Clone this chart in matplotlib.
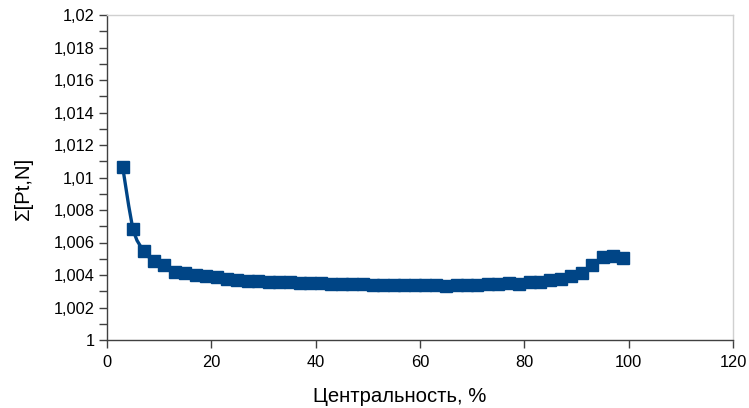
import numpy as np
import matplotlib.pyplot as plt
from matplotlib.path import Path
from matplotlib.patches import PathPatch
from matplotlib.ticker import MultipleLocator, FuncFormatter

# Центральность (%) и значения Σ[Pt,N]
centrality = [3, 5, 7, 9, 11, 13, 15, 17, 19, 21, 23, 25, 27, 29, 31, 33, 35, 37, 39, 41,
              43, 45, 47, 49, 51, 53, 55, 57, 59, 61, 63, 65, 67, 69, 71, 73, 75, 77, 79, 81,
              83, 85, 87, 89, 91, 93, 95, 97, 99]
sigma = [1.01065, 1.00685, 1.0055, 1.00485, 1.0046, 1.0042, 1.0041, 1.0040, 1.00395, 1.00385,
         1.00375, 1.0037, 1.00365, 1.00365, 1.0036, 1.0036, 1.00355, 1.0035, 1.0035, 1.0035,
         1.00345, 1.00345, 1.00345, 1.00345, 1.0034, 1.0034, 1.0034, 1.0034, 1.0034, 1.0034,
         1.0034, 1.00335, 1.0034, 1.0034, 1.0034, 1.00345, 1.00345, 1.0035, 1.00345, 1.00355,
         1.00355, 1.0037, 1.00375, 1.00395, 1.00415, 1.0046, 1.0051, 1.0052, 1.00505]

color = '#004586'
plt.rcParams['font.family'] = ['Liberation Sans', 'DejaVu Sans']

W, H = 749, 408
fig = plt.figure(figsize=(W / 100, H / 100), dpi=100)
ax = fig.add_axes([107 / W, 68 / H, 626 / W, 325 / H])

# сглаженная линия (Catmull-Rom -> кривые Безье)
x = np.array(centrality, dtype=float)
y = np.array(sigma)
verts = [(x[0], y[0])]
codes = [Path.MOVETO]
for i in range(len(x) - 1):
    p0 = np.array([x[max(i - 1, 0)], y[max(i - 1, 0)]])
    p1 = np.array([x[i], y[i]])
    p2 = np.array([x[i + 1], y[i + 1]])
    p3 = np.array([x[min(i + 2, len(x) - 1)], y[min(i + 2, len(x) - 1)]])
    c1 = p1 + (p2 - p0) / 6
    c2 = p2 - (p3 - p1) / 6
    verts += [tuple(c1), tuple(c2), tuple(p2)]
    codes += [Path.CURVE4] * 3
ax.add_patch(PathPatch(Path(verts, codes), facecolor='none', edgecolor=color, lw=2.4, zorder=2))
ax.plot(centrality, sigma, linestyle='none', marker='s', markersize=9.3, color=color, zorder=3)

ax.set_xlim(0, 120)
ax.set_ylim(1.0, 1.02)
ax.xaxis.set_major_locator(MultipleLocator(20))
ax.yaxis.set_major_locator(MultipleLocator(0.002))
ax.yaxis.set_minor_locator(MultipleLocator(0.001))


def fmt(v, pos):
    s = f'{v:.3f}'.rstrip('0').rstrip('.')
    return s.replace('.', ',')


ax.yaxis.set_major_formatter(FuncFormatter(fmt))
ax.tick_params(axis='both', which='major', labelsize=11.8, length=6, width=1, color='#404040',
               labelcolor='black')
ax.tick_params(axis='y', which='minor', length=6, width=1, color='#404040')
ax.tick_params(axis='x', pad=5)
ax.tick_params(axis='y', pad=3)

for s in ['left', 'bottom']:
    ax.spines[s].set_color('#404040')
    ax.spines[s].set_linewidth(1)
for s in ['top', 'right']:
    ax.spines[s].set_color('#d0d0d0')
    ax.spines[s].set_linewidth(1)

fig.text(400 / W, 1 - 396 / H, 'Центральность, %', fontsize=14.6, ha='center', va='center')
fig.text(23 / W, 1 - 188 / H, 'Σ[Pt,N]', fontsize=14.6, ha='center', va='center', rotation=90)

fig.savefig('out.png', dpi=100)
